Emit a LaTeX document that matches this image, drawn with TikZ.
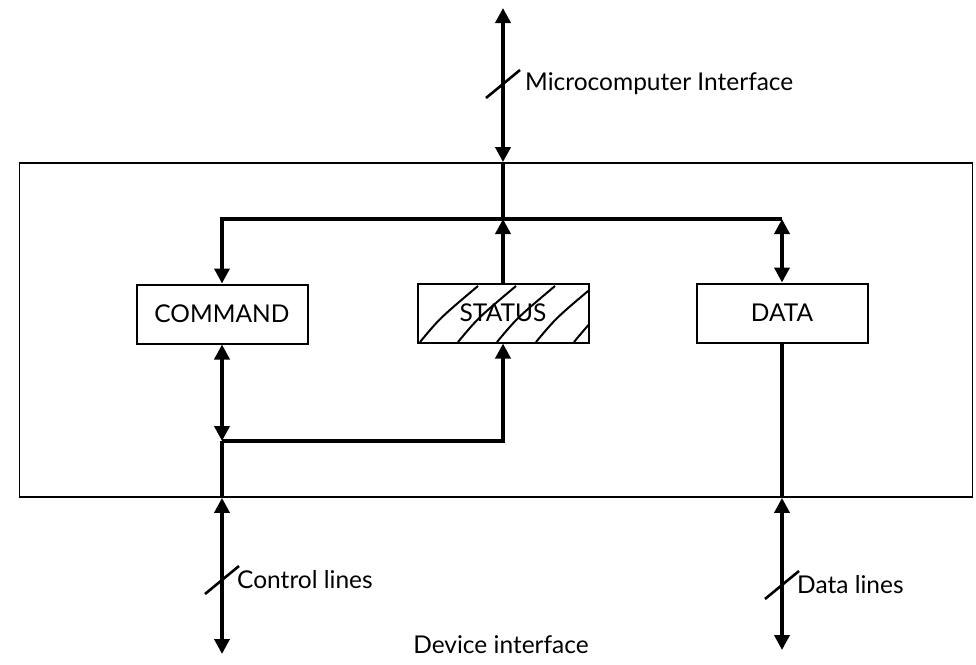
\documentclass[tikz,border=0pt]{standalone}
\usepackage{fontspec}
\setmainfont{Lato}
\usetikzlibrary{arrows.meta,positioning}

\tikzset{
  regbox/.style={draw, line width=2pt, minimum width=171pt, minimum height=59pt,
    font=\fontsize{24.5}{29}\selectfont},
  bus/.style={line width=3.6pt},
  both/.style={bus, {Triangle[length=15pt,width=15pt]}-{Triangle[length=15pt,width=15pt]}},
  busmark/.style={line width=2.6pt},
  lbl/.style={inner sep=0pt, font=\fontsize{24.5}{29}\selectfont},
}

\begin{document}
\begin{tikzpicture}[x=1pt, y=-1pt, >={Triangle[length=15pt,width=15pt]}]
  \useasboundingbox (0,0) rectangle (976,664);

  % interface frame
  \node[draw, line width=1.8pt, minimum width=953pt, minimum height=334pt] (frame) at (496,330) {};

  % registers
  \node[regbox] (cmd) at (222,314) {COMMAND};
  \node[regbox] (stat) at (503,313) {STATUS};
  \node[regbox] (dat) at (782,313) {DATA};
  \begin{scope}
    \clip (stat.south west) rectangle (stat.north east);
    \foreach \x in {420,458,497,536,574}
      \draw[line width=2pt] (\x,342) .. controls (\x+20,318) .. (\x+58,286);
  \end{scope}
  \node[regbox] at (stat) {};

  \coordinate (mtop) at (503,8);
  \coordinate (busL) at (222,219);
  \coordinate (busR) at (782,219);
  \coordinate (jn) at (222,441);
  \coordinate (jr) at (503,441);
  \coordinate (cbot) at (222,654);
  \coordinate (dbot) at (782,650);

  % microcomputer side
  \draw[both] (mtop) -- (mtop |- frame.north);
  \draw[bus] (mtop |- frame.north) -- (stat.north |- busL);
  \draw[bus,->] (stat.north) -- (stat.north |- busL);
  \draw[bus,->] (busR) -- (busL) -- (cmd.north);
  \draw[both] (busR) -- (dat.north);

  % device side
  \draw[both] (cmd.south) -- (jn);
  \draw[bus,->] (jn) -- (jr) -- (stat.south);
  \draw[bus] (jn) -- (jn |- frame.south);
  \draw[both] (jn |- frame.south) -- (cbot);
  \draw[bus] (dat.south) -- (dat.south |- frame.south);
  \draw[both] (dat.south |- frame.south) -- (dbot);

  % bus width marks and labels
  \coordinate (t1) at (503,84);
  \coordinate (t2) at (222,580);
  \coordinate (t3) at (782,585);
  \foreach \t in {t1,t2,t3}
    \draw[busmark] (\t) ++(-17,14) -- ++(34,-28);
  \node[lbl, right=22pt of t1] (mlbl) {Microcomputer Interface};
  \node[lbl, right=15pt of t2] (clbl) {Control lines};
  \node[lbl, right=15pt of t3] (dlbl) {Data lines};
  \node[lbl] (dev) at (501,645) {Device interface};
\end{tikzpicture}
\end{document}
